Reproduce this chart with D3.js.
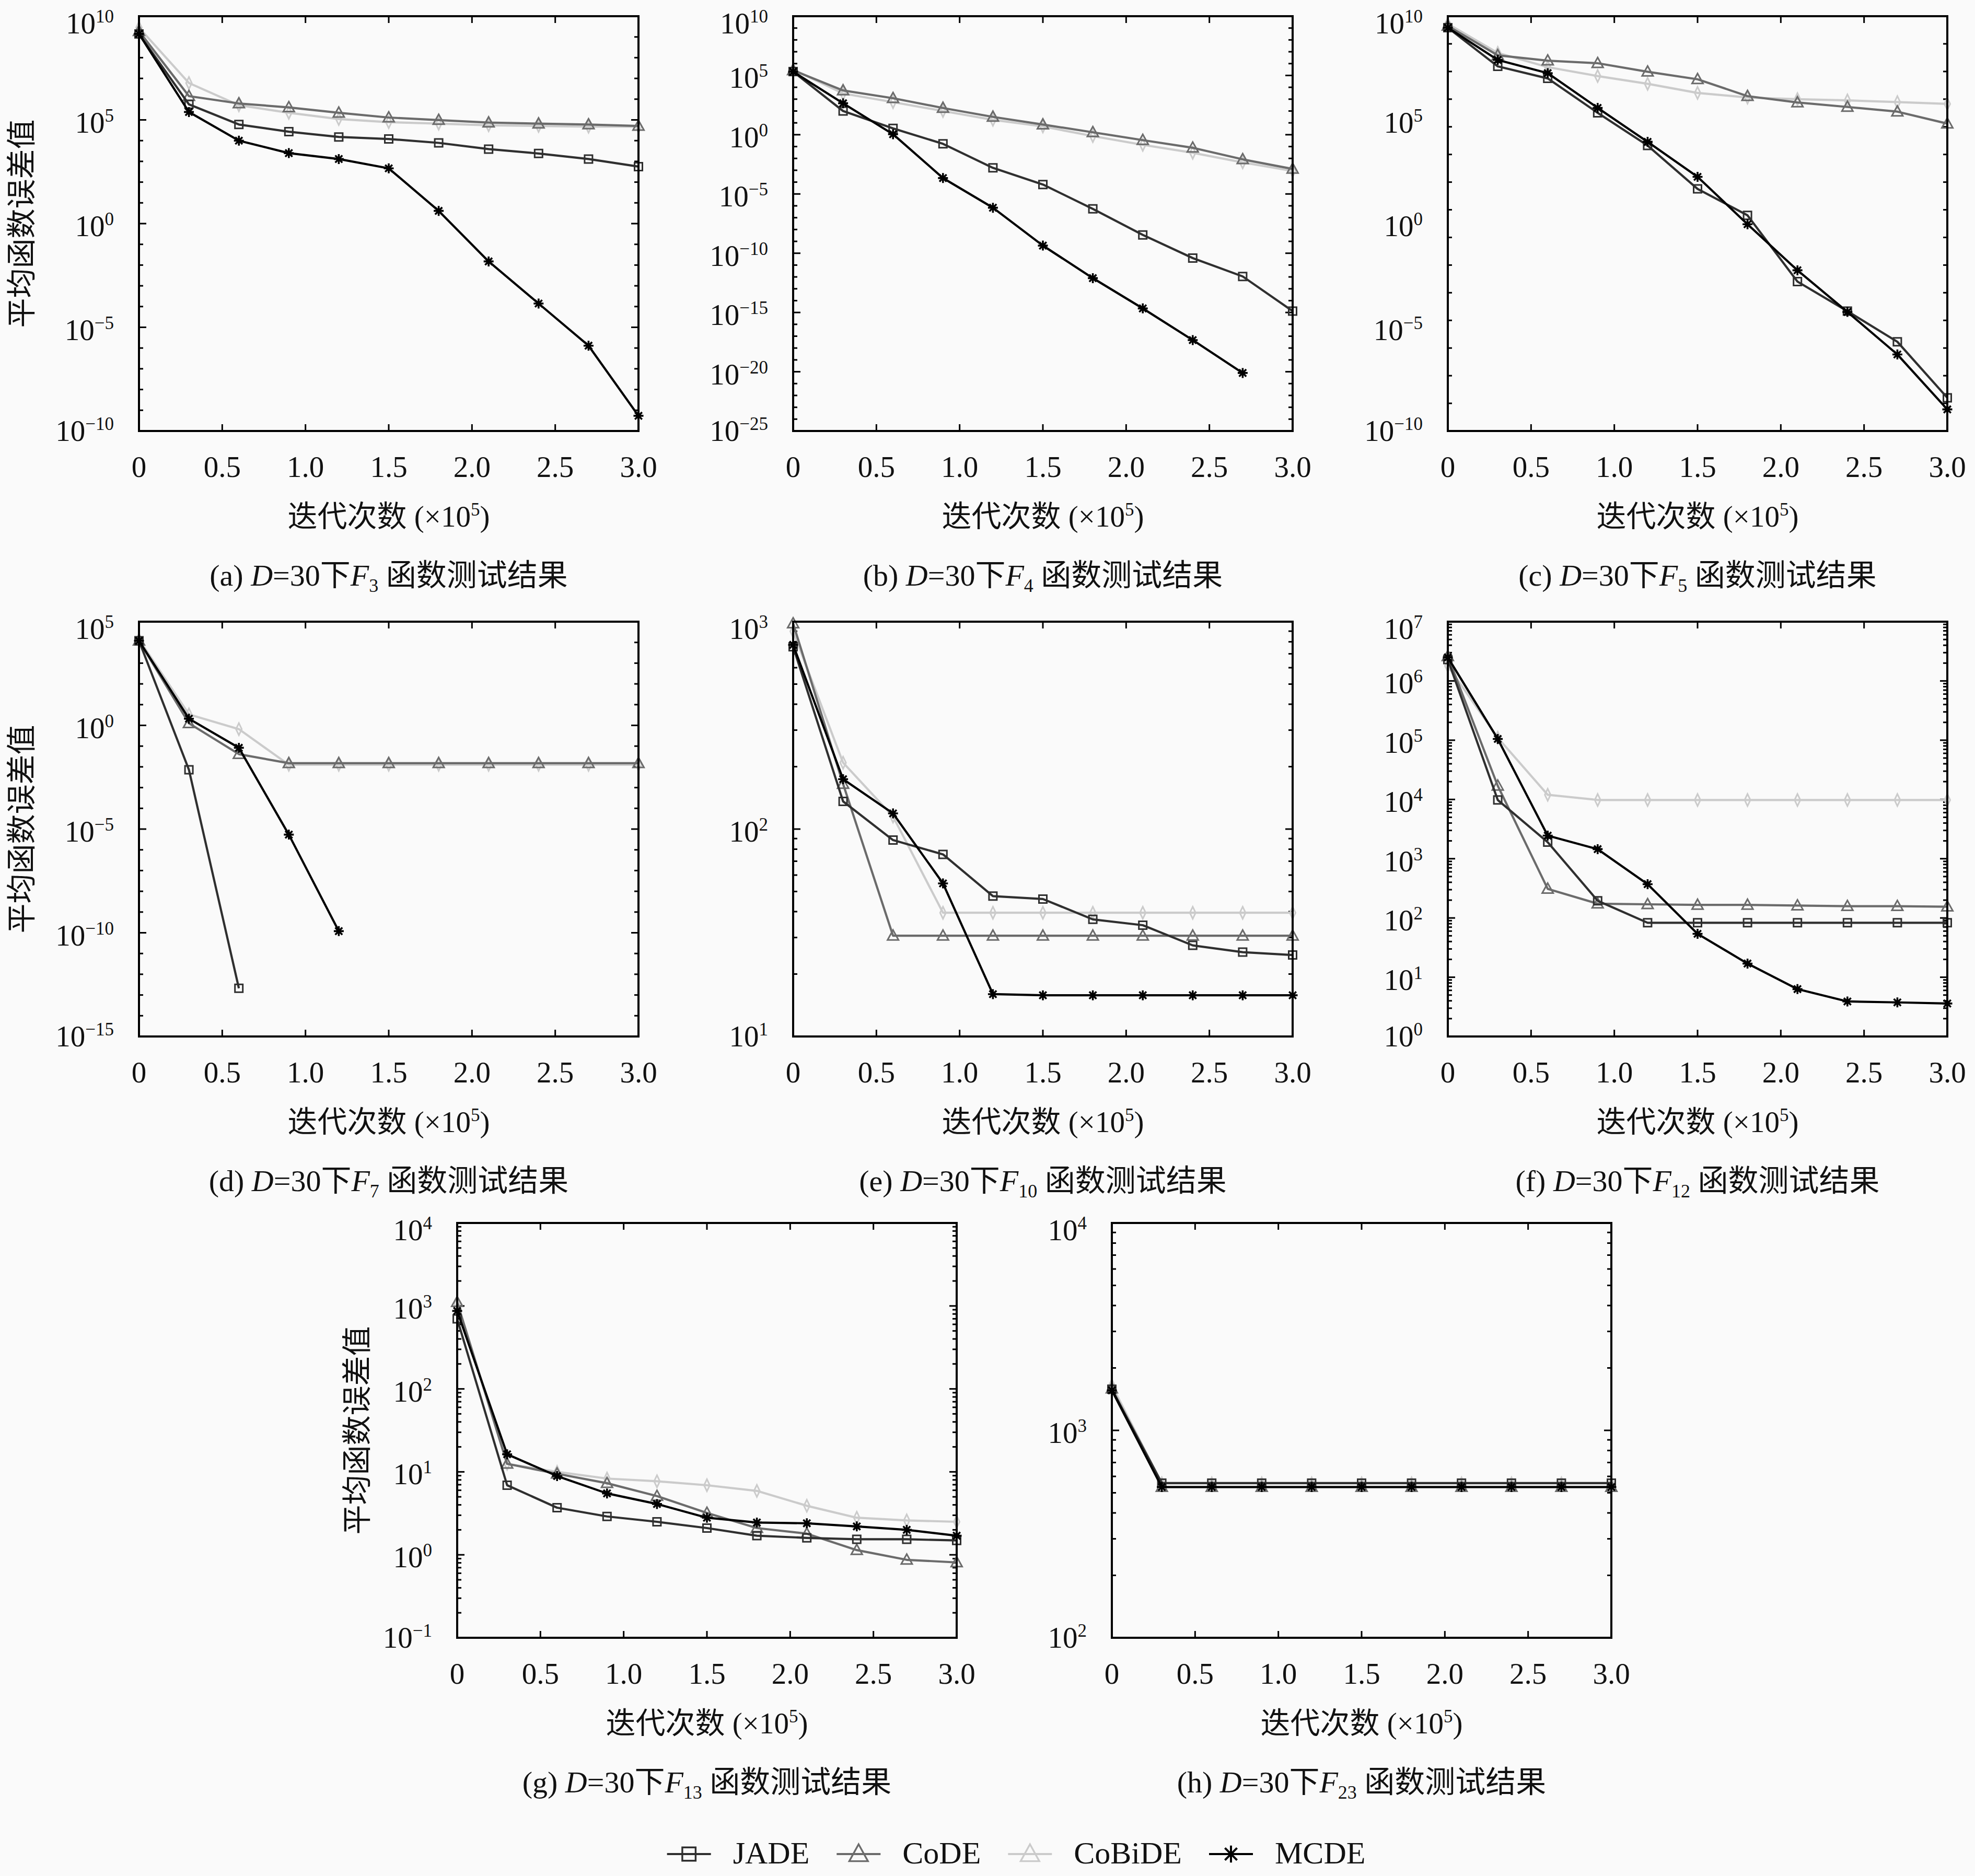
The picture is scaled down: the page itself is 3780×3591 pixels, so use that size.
<!DOCTYPE html>
<html>
<head>
<meta charset="utf-8">
<script src="https://cdn.jsdelivr.net/npm/d3@7"></script>
<style>
  body { margin: 0; background: #fafafa; }
  svg { display: block; background: #fafafa; }
  text { font-family: "Liberation Serif", "Noto Sans CJK SC", serif; fill: #111; }
</style>
</head>
<body>
<svg id="chart" width="3780" height="3591"></svg>
<script>
// iterations (x 10^5) shared by every panel
const iterations = [0, 0.3, 0.6, 0.9, 1.2, 1.5, 1.8, 2.1, 2.4, 2.7, 3.0];
const xTickValues = [0, 0.5, 1.0, 1.5, 2.0, 2.5, 3.0];
const xTickLabels = ['0', '0.5', '1.0', '1.5', '2.0', '2.5', '3.0'];
const algorithms = ['JADE', 'CoDE', 'CoBiDE', 'MCDE'];
const panelLetters = ['a', 'b', 'c', 'd', 'e', 'f', 'g', 'h'];
const functionIds = ['3', '4', '5', '7', '10', '12', '13', '23'];

// mean error per algorithm, order: JADE, CoDE, CoBiDE, MCDE (null = no point)
const errF3 = [
  [1.4e9, 5.6e5, 6.0e4, 2.7e4, 1.5e4, 1.2e4, 7.8e3, 3.9e3, 2.4e3, 1.3e3, 5.6e2],
  [1.9e9, 1.4e6, 6.2e5, 4.0e5, 2.2e5, 1.3e5, 9.8e4, 7.4e4, 6.6e4, 6.0e4, 5.1e4],
  [2.8e9, 6.0e6, 5.1e5, 2.2e5, 1.1e5, 7.8e4, 6.6e4, 5.5e4, 5.1e4, 4.7e4, 4.7e4],
  [1.4e9, 2.4e5, 1.0e4, 2.5e3, 1.3e3, 4.6e2, 4.1, 1.5e-2, 1.4e-4, 1.3e-6, 5.4e-10]
];
const errF4 = [
  [2.1e5, 1.0e2, 3.4, 1.7e-1, 1.6e-3, 6.3e-5, 5.5e-7, 3.5e-9, 3.9e-11, 1.1e-12, 1.3e-15],
  [2.7e5, 5.4e3, 1.2e3, 1.8e2, 3.2e1, 7.2, 1.6, 3.5e-1, 7.9e-2, 8.3e-3, 1.3e-3],
  [3.2e5, 3.0e3, 5.6e2, 1.0e2, 1.8e1, 5.0, 7.6e-1, 1.4e-1, 3.0e-2, 4.6e-3, 8.7e-4],
  [2.1e5, 4.5e2, 1.1, 2.2e-4, 6.9e-7, 4.4e-10, 7.9e-13, 2.2e-15, 4.7e-18, 7.9e-21, null]
];
const errF5 = [
  [2.8e9, 3.8e7, 1.0e7, 2.2e5, 5.8e3, 4.7e1, 2.5, 1.6e-3, 6.0e-5, 2.0e-6, 4.0e-9],
  [3.4e9, 1.3e8, 7.2e7, 5.4e7, 2.1e7, 9.1e6, 1.4e6, 6.9e5, 4.2e5, 2.5e5, 6.6e4],
  [4.3e9, 1.7e8, 3.5e7, 1.3e7, 5.5e6, 2.0e6, 1.2e6, 1.0e6, 8.7e5, 7.2e5, 5.9e5],
  [2.8e9, 7.8e7, 1.8e7, 3.8e5, 8.7e3, 1.8e2, 9.3e-1, 5.6e-3, 5.5e-5, 4.9e-7, 1.1e-9]
];
const errF7 = [
  [1.2e4, 7.2e-3, 2.1e-13, null, null, null, null, null, null, null, null],
  [1.2e4, 1.26, 4.1e-2, 1.5e-2, 1.5e-2, 1.5e-2, 1.5e-2, 1.5e-2, 1.5e-2, 1.5e-2, 1.5e-2],
  [1.4e4, 3.4, 6.6e-1, 1.26e-2, 1.26e-2, 1.26e-2, 1.26e-2, 1.26e-2, 1.26e-2, 1.26e-2, 1.26e-2],
  [1.2e4, 2.1, 8.3e-2, 5.4e-6, 1.2e-10, null, null, null, null, null, null]
];
const errF10 = [
  [757, 136, 88.5, 75.5, 47.5, 46, 36.7, 34.4, 27.5, 25.5, 24.7],
  [980, 165, 30.6, 30.6, 30.6, 30.6, 30.6, 30.6, 30.6, 30.6, 30.6],
  [898, 209, 115, 39.5, 39.5, 39.5, 39.5, 39.5, 39.5, 39.5, 39.5],
  [773, 174, 119, 54.7, 16.0, 15.8, 15.8, 15.8, 15.8, 15.8, 15.8]
];
const errF12 = [
  [2.3e6, 9.8e3, 1.9e3, 195, 83, 83, 83, 83, 83, 83, 83],
  [2.6e6, 1.7e4, 310, 174, 170, 166, 166, 162, 158, 158, 155],
  [1.8e6, 1.1e5, 1.2e4, 9.8e3, 9.8e3, 9.8e3, 9.8e3, 9.8e3, 9.8e3, 9.8e3, 9.8e3],
  [2.5e6, 1.05e5, 2.45e3, 1.45e3, 372, 54, 17, 6.3, 3.9, 3.76, 3.6]
];
const errF13 = [
  [698, 6.9, 3.7, 2.9, 2.5, 2.1, 1.7, 1.6, 1.54, 1.54, 1.49],
  [1110, 12.5, 9.5, 7.3, 5.1, 3.2, 2.1, 1.8, 1.14, 0.87, 0.81],
  [1070, 12.5, 10, 8.3, 7.7, 6.9, 5.9, 3.9, 2.8, 2.6, 2.5],
  [870, 16.3, 8.9, 5.5, 4.1, 2.8, 2.45, 2.4, 2.2, 2.0, 1.7]
];
const errF23 = [
  [1578, 557, 557, 557, 557, 557, 557, 557, 557, 557, 557],
  [1590, 533, 533, 533, 533, 533, 533, 533, 533, 533, 533],
  [1650, 555, 555, 555, 555, 555, 555, 555, 555, 555, 555],
  [1560, 533, 533, 533, 533, 533, 533, 533, 533, 533, 533]
];
const panelData = [errF3, errF4, errF5, errF7, errF10, errF12, errF13, errF23];

// y axis ranges and labelled exponents
const yDomains = [[1e-10, 1e10], [1e-25, 1e10], [1e-10, 1e10], [1e-15, 1e5],
                  [1e1, 1e3], [1e0, 1e7], [1e-1, 1e4], [1e2, 1e4]];
const yLabelExps = [
  [10, 5, 0, -5, -10],
  [10, 5, 0, -5, -10, -15, -20, -25],
  [10, 5, 0, -5, -10],
  [5, 0, -5, -10, -15],
  [3, 2, 1],
  [7, 6, 5, 4, 3, 2, 1, 0],
  [4, 3, 2, 1, 0, -1],
  [4, 3, 2]
];
const yTickModes = ['decade', 'decade', 'third', 'decade', 'minor', 'minor', 'minor', 'minor'];

// layout
const PW = 956, PH = 794;
const panelPos = [[266, 31], [1518, 31], [2771, 31], [266, 1190], [1518, 1190], [2771, 1190], [875, 2341], [2128, 2341]];
const yTitleOffset = [225, null, null, 225, null, null, 192, null];

const colors = ['#2f2f2f', '#6b6b6b', '#cbcbcb', '#000000'];
const markers = ['square', 'triangle', 'diamond', 'star'];
const legendMarkers = ['square', 'triangle', 'triangle', 'star'];
const drawOrder = [2, 1, 0, 3];

const svg = d3.select('#chart');
const x = d3.scaleLinear().domain([0, 3]).range([0, PW]);

function markerPath(type, s) {
  s = s || 1;
  if (type === 'square') return `M${-7.5*s},${-7.5*s}H${7.5*s}V${7.5*s}H${-7.5*s}Z`;
  if (type === 'triangle') return `M0,${-11*s}L${10.5*s},${8*s}H${-10.5*s}Z`;
  if (type === 'diamond') return `M0,${-11.5*s}L${5.5*s},0L0,${11.5*s}L${-5.5*s},0Z`;
  const r = 9.5 * s, d = 6.8 * s;
  return `M0,${-r}V${r}M${-r},0H${r}M${-d},${-d}L${d},${d}M${-d},${d}L${d},${-d}`;
}

function yTicks(i, dom) {
  const lo = Math.round(Math.log10(dom[0])), hi = Math.round(Math.log10(dom[1]));
  const t = [];
  if (yTickModes[i] === 'decade') {
    for (let e = lo; e <= hi; e++) t.push({v: Math.pow(10, e), major: e % 5 === 0});
  } else if (yTickModes[i] === 'third') {
    for (let k = 0; k <= 15; k++) t.push({v: Math.pow(10, hi - 4 * k / 3), major: false});
  } else {
    for (let e = lo; e < hi; e++)
      for (let k = 1; k <= 9; k++) t.push({v: k * Math.pow(10, e), major: k === 1});
    t.push({v: Math.pow(10, hi), major: true});
  }
  return t;
}

const minus = s => String(s).replace('-', '\u2212');

panelData.forEach((series, i) => {
  const [left, top] = panelPos[i];
  const g = svg.append('g').attr('transform', `translate(${left},${top})`);
  const y = d3.scaleLog().domain(yDomains[i]).range([PH, 0]);

  // ticks, inward on all four sides
  const ticks = yTicks(i, yDomains[i]);
  g.selectAll('line.yt').data(ticks).join('line')
    .attr('x1', 0).attr('x2', d => d.major ? 14 : 8)
    .attr('y1', d => y(d.v)).attr('y2', d => y(d.v))
    .attr('stroke', '#000').attr('stroke-width', 3);
  g.selectAll('line.yr').data(ticks).join('line')
    .attr('x1', PW).attr('x2', d => PW - (d.major ? 14 : 8))
    .attr('y1', d => y(d.v)).attr('y2', d => y(d.v))
    .attr('stroke', '#000').attr('stroke-width', 3);
  xTickValues.forEach(v => {
    g.append('line').attr('x1', x(v)).attr('x2', x(v)).attr('y1', PH).attr('y2', PH - 13)
      .attr('stroke', '#000').attr('stroke-width', 3);
    g.append('line').attr('x1', x(v)).attr('x2', x(v)).attr('y1', 0).attr('y2', 13)
      .attr('stroke', '#000').attr('stroke-width', 3);
  });

  // series lines and markers
  const line = d3.line()
    .defined(d => d != null)
    .x((d, j) => x(iterations[j]))
    .y(d => y(d));
  drawOrder.forEach(s => {
    g.append('path').datum(series[s])
      .attr('d', line)
      .attr('fill', 'none')
      .attr('stroke', colors[s])
      .attr('stroke-width', 4.2)
      .attr('stroke-linejoin', 'round');
    g.selectAll(null)
      .data(series[s].map((v, j) => ({v, j})).filter(d => d.v != null))
      .join('path')
      .attr('transform', d => `translate(${x(iterations[d.j])},${y(d.v)})`)
      .attr('d', markerPath(markers[s]))
      .attr('fill', 'none')
      .attr('stroke', colors[s])
      .attr('stroke-width', s === 3 ? 3.6 : 3);
  });

  // frame
  g.append('rect').attr('width', PW).attr('height', PH)
    .attr('fill', 'none').attr('stroke', '#000').attr('stroke-width', 4);

  // y tick labels 10^k (end labels nudged inside, as in the original)
  const exps = yLabelExps[i];
  exps.forEach((e, k) => {
    let by = y(Math.pow(10, e)) + 24;
    if (k === 0) by = 33;
    if (k === exps.length - 1) by = PH + 19;
    const t = g.append('text')
      .attr('x', -48).attr('y', by)
      .attr('text-anchor', 'end').attr('font-size', 57);
    t.append('tspan').text('10');
    t.append('tspan').attr('dy', -21).attr('font-size', 35).text(minus(e));
  });

  // x tick labels
  xTickValues.forEach((v, j) => {
    g.append('text').attr('x', x(v)).attr('y', PH + 88)
      .attr('text-anchor', 'middle').attr('font-size', 57).text(xTickLabels[j]);
  });

  // x axis title
  const xt = g.append('text').attr('x', PW / 2).attr('y', PH + 183)
    .attr('text-anchor', 'middle').attr('font-size', 57);
  xt.append('tspan').text('迭代次数 (×10');
  xt.append('tspan').attr('dy', -21).attr('font-size', 35).text('5');
  xt.append('tspan').attr('dy', 21).text(')');

  // y axis title
  if (yTitleOffset[i] != null) {
    g.append('text')
      .attr('transform', `translate(${-yTitleOffset[i]},${PH / 2}) rotate(-90)`)
      .attr('text-anchor', 'middle').attr('dominant-baseline', 'central')
      .attr('font-size', 57).text('平均函数误差值');
  }

  // caption
  const cap = g.append('text').attr('x', PW / 2).attr('y', PH + 296)
    .attr('text-anchor', 'middle').attr('font-size', 58);
  cap.append('tspan').text(`(${panelLetters[i]}) `);
  cap.append('tspan').attr('font-style', 'italic').text('D');
  cap.append('tspan').text('=30下');
  cap.append('tspan').attr('font-style', 'italic').text('F');
  cap.append('tspan').attr('dy', 12).attr('font-size', 36).text(functionIds[i]);
  cap.append('tspan').attr('dy', -12).text(' 函数测试结果');
});

// legend, laid out left to right and centred under the figure
const legend = svg.append('g');
let cursor = 0;
algorithms.forEach((name, s) => {
  const item = legend.append('g').attr('transform', `translate(${cursor},0)`);
  item.append('line').attr('x1', 0).attr('x2', 84).attr('y1', 0).attr('y2', 0)
    .attr('stroke', colors[s]).attr('stroke-width', 4.2);
  item.append('path').attr('transform', 'translate(42,0)')
    .attr('d', markerPath(legendMarkers[s], 1.7))
    .attr('fill', 'none').attr('stroke', colors[s]).attr('stroke-width', s === 3 ? 4 : 3.4);
  const txt = item.append('text').attr('x', 126).attr('y', 18)
    .attr('font-size', 60).text(name);
  cursor += 126 + txt.node().getComputedTextLength() + 52;
});
const legendWidth = cursor - 52;
legend.attr('transform', `translate(${1945 - legendWidth / 2},3549)`);
</script>
</body>
</html>
